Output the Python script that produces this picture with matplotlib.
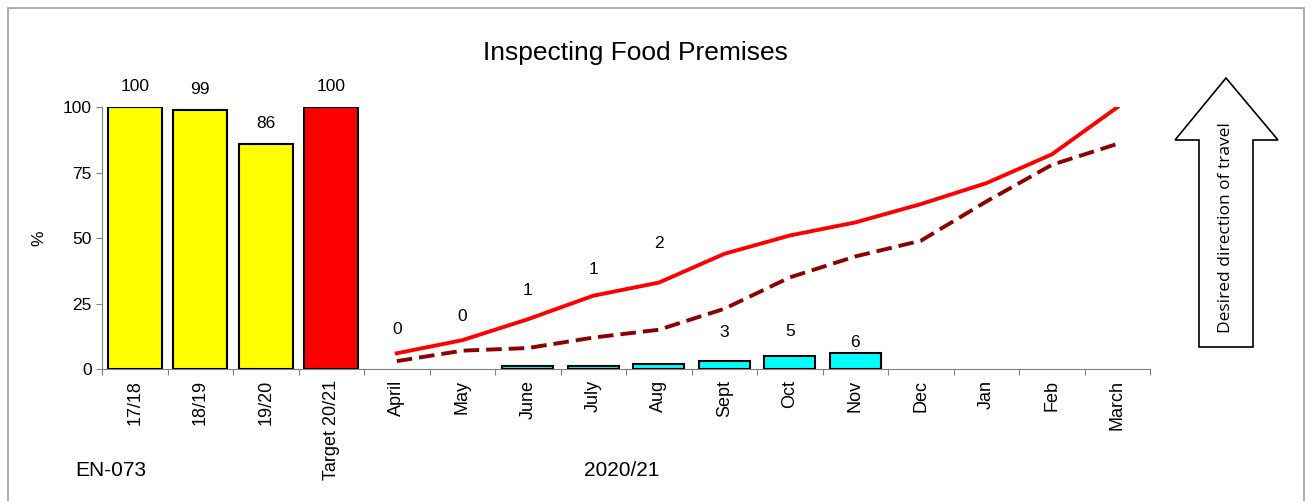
import matplotlib
matplotlib.use('Agg')
import matplotlib.pyplot as plt
from matplotlib.patches import Polygon, Rectangle
import numpy as np

plt.rcParams['font.family'] = ['Liberation Sans', 'DejaVu Sans']

# Data
annual_labels = ['17/18', '18/19', '19/20', 'Target 20/21']
annual_values = [100, 99, 86, 100]
annual_colors = ['#ffff00', '#ffff00', '#ffff00', '#ff0000']

months = ['April', 'May', 'June', 'July', 'Aug', 'Sept', 'Oct', 'Nov',
          'Dec', 'Jan', 'Feb', 'March']
month_values = [0, 0, 1, 1, 2, 3, 5, 6]
month_label_y = [15, 20, 30, 38, 48, 14, 14.5, 10]
target_line = [6, 11, 19, 28, 33, 44, 51, 56, 63, 71, 82, 100]
last_year_line = [3, 7, 8, 12, 15, 23, 35, 43, 49, 64, 78, 86]

fig = plt.figure(figsize=(13.16, 5.01), dpi=100)
ax = fig.add_axes([0.0775, 0.2635, 0.7965, 0.5225])

categories = annual_labels + months
x_annual = np.arange(len(annual_labels))
x_month = np.arange(len(months)) + len(annual_labels)

ax.bar(x_annual, annual_values, width=0.82, color=annual_colors,
       edgecolor='black', linewidth=1.5, zorder=3)
for x, v in zip(x_annual, annual_values):
    ax.text(x, v + 5, str(v), ha='center', va='bottom', fontsize=12.5)

xm = x_month[:len(month_values)]
# zero months have no visible bar
nz = [i for i, v in enumerate(month_values) if v > 0]
ax.bar(xm[nz], [month_values[i] for i in nz], width=0.78, color='#00ffff',
       edgecolor='black', linewidth=1.5, zorder=3)
for x, v, ly in zip(xm, month_values, month_label_y):
    ax.text(x, ly, str(v), ha='center', va='center', fontsize=12.5, zorder=4)

ax.plot(x_month, target_line, color='#ff0000', linewidth=2.8, zorder=4)
ax.plot(x_month, last_year_line, color='#8b0000', linewidth=2.8,
        linestyle=(0, (4, 1.8)), zorder=4)

ax.set_xlim(-0.5, len(categories) - 0.5)
ax.set_ylim(0, 100)
ax.set_yticks([0, 25, 50, 75, 100])
ax.tick_params(axis='y', labelsize=12.5, length=4, direction='out')
ax.set_xticks(np.arange(len(categories) + 1) - 0.5)
ax.set_xticklabels([])
ax.set_xticks(np.arange(len(categories)), minor=True)
ax.set_xticklabels(categories, minor=True, rotation=90, fontsize=13)
ax.tick_params(axis='x', which='major', length=4)
ax.tick_params(axis='x', which='minor', length=0, pad=8)
for s in ['top', 'right']:
    ax.spines[s].set_visible(False)
ax.spines['left'].set_color('#808080')
ax.spines['bottom'].set_color('#808080')
ax.tick_params(colors='#808080', labelcolor='black', which='both')
ax.set_ylabel('%', fontsize=12.5, labelpad=12)

fig.text(0.483, 0.895, 'Inspecting Food Premises', ha='center', va='center',
         fontsize=19)
fig.text(0.057, 0.06, 'EN-073', ha='left', va='center', fontsize=15)
fig.text(0.4725, 0.06, '2020/21', ha='center', va='center', fontsize=15)

# border
fig.patches.append(Rectangle((0.006, -0.05), 0.985, 1.034, transform=fig.transFigure,
                             fill=False, edgecolor='#a0a0a0', linewidth=1.2))

# arrow
W, H = 1316, 501
pts = [(1226, 78), (1278, 140), (1253, 140), (1253, 347), (1199, 347),
       (1199, 140), (1175, 140)]
pts = [(x / W, 1 - y / H) for x, y in pts]
fig.patches.append(Polygon(pts, closed=True, transform=fig.transFigure,
                           facecolor='white', edgecolor='black', linewidth=1.2))
fig.text(1226 / W, 1 - 228 / H, 'Desired direction of travel', rotation=90,
         ha='center', va='center', fontsize=12.5, family=['Open Sans', 'DejaVu Sans'])

fig.savefig('out.png', dpi=100)
